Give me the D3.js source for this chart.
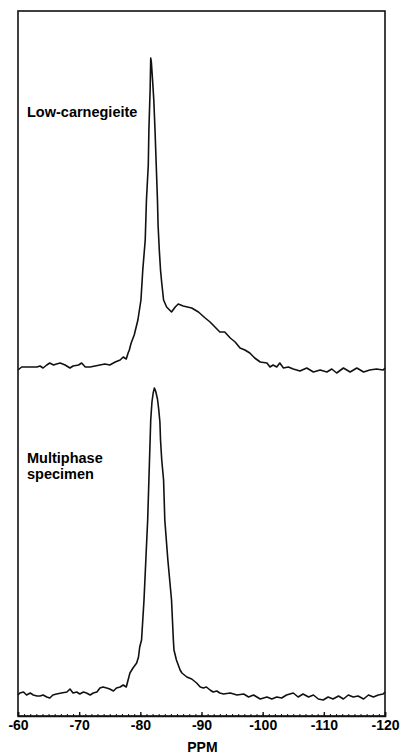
<!DOCTYPE html>
<html>
<head>
<meta charset="utf-8">
<script src="https://cdn.jsdelivr.net/npm/d3@7"></script>
<style>
  body { margin: 0; background: #fff; }
  svg { display: block; }
  text { font-family: "Liberation Sans", Arial, sans-serif; font-weight: bold; fill: #000; }
</style>
</head>
<body>
<svg id="chart" width="400" height="754"></svg>
<script>
// chemical shift (ppm) and intensity (arbitrary units)
const topPpm = [-60.0, -60.6, -61.4, -62.5, -63.1, -63.6, -64.1, -64.7, -65.2, -65.8, -66.3, -66.9, -67.7, -68.5, -69.0, -69.9, -70.4, -71.0, -71.8, -72.6, -73.4, -74.2, -75.0, -75.9, -76.7, -77.2, -77.7, -78.0, -78.2, -78.5, -79.0, -79.6, -80.1, -80.4, -80.8, -81.0, -81.3, -81.4, -81.6, -81.7, -81.8, -82.0, -82.2, -82.4, -82.6, -82.8, -82.9, -83.1, -83.3, -83.5, -83.8, -84.3, -85.1, -85.7, -86.2, -87.0, -88.4, -89.5, -90.6, -91.4, -92.2, -93.0, -93.8, -94.7, -95.5, -96.3, -97.1, -97.9, -98.7, -99.6, -100.7, -101.2, -101.7, -102.3, -102.8, -103.4, -104.2, -105.0, -106.1, -107.2, -108.3, -109.4, -110.5, -111.3, -112.1, -113.2, -114.3, -115.4, -116.5, -117.5, -118.6, -119.7, -120.0];
const topInt = [-2, 1, 1, 1, 1, 2, 0, 3, 5, 3, 4, 5, 3, 0, 2, 3, 5, 1, 1, 2, 3, 4, 3, 6, 8, 11, 9, 15, 18, 25, 33, 48, 68, 98, 128, 168, 203, 238, 278, 310, 306, 288, 268, 238, 203, 168, 143, 118, 98, 85, 68, 61, 56, 61, 64, 62, 60, 56, 50, 46, 41, 36, 36, 30, 26, 20, 18, 15, 10, 6, 5, 1, 3, 1, 5, 0, 1, -1, -3, 0, -4, -2, -4, -1, -5, 0, -4, 0, -4, -2, -1, -2, 0];

const bottomPpm = [-60.0, -60.3, -60.9, -61.4, -62.0, -62.5, -63.1, -63.6, -64.1, -64.7, -65.2, -65.7, -66.3, -67.1, -68.0, -68.5, -69.0, -69.6, -70.1, -70.7, -71.2, -71.8, -72.3, -72.9, -73.4, -73.9, -74.5, -75.0, -75.6, -76.1, -76.7, -77.2, -77.7, -78.0, -78.3, -78.8, -79.4, -79.7, -79.9, -80.2, -80.6, -80.9, -81.2, -81.4, -81.5, -81.6, -81.7, -81.9, -82.1, -82.3, -82.5, -82.8, -83.0, -83.2, -83.3, -83.5, -83.8, -84.0, -84.5, -85.1, -85.4, -85.5, -85.9, -86.5, -86.8, -87.6, -88.4, -89.2, -89.8, -90.3, -90.8, -91.4, -91.9, -92.5, -93.0, -93.6, -94.7, -95.8, -96.9, -97.7, -98.5, -99.6, -100.7, -101.5, -102.3, -103.1, -103.9, -105.0, -105.8, -106.6, -107.5, -108.3, -109.1, -109.9, -110.7, -111.5, -112.4, -113.2, -114.0, -114.8, -115.6, -116.5, -117.3, -118.1, -118.9, -119.7, -120.0];
const bottomInt = [1, 3, 4, 1, 3, 1, 0, 0, 1, -1, -2, 1, 2, 3, 4, 7, 3, 4, 2, 4, 3, 1, 3, 4, 8, 9, 8, 7, 5, 8, 9, 11, 9, 16, 23, 28, 33, 39, 49, 56, 96, 136, 176, 216, 236, 256, 276, 294, 303, 308, 305, 297, 287, 274, 256, 236, 216, 176, 136, 96, 56, 46, 36, 26, 23, 19, 17, 13, 9, 8, 9, 6, 4, 5, 3, 2, 3, 1, 2, -1, 1, -3, -1, -3, -1, -2, 1, 3, -1, 2, -1, 1, -3, -4, -1, -3, 0, -3, 1, -1, 0, -3, 1, -1, 1, 2, 4];

const majorTicks = [-60, -70, -80, -90, -100, -110, -120];
const topLabel = ["Low-carnegieite"];
const bottomLabel = ["Multiphase", "specimen"];
const xTitle = "PPM";

const svg = d3.select("#chart");
const frame = { left: 18, right: 385, top: 11, bottom: 716 };

const x = d3.scaleLinear().domain([-60, -120]).range([frame.left, frame.right]);
const yTop = d3.scaleLinear().domain([0, 310]).range([368, 58]);
const yBottom = d3.scaleLinear().domain([0, 308]).range([696, 388]);

// frame
svg.append("rect")
    .attr("x", frame.left).attr("y", frame.top)
    .attr("width", frame.right - frame.left).attr("height", frame.bottom - frame.top)
    .attr("fill", "none")
    .attr("stroke", "#111")
    .attr("stroke-width", 1.6);

const drawSpectrum = (ppm, vals, y) => {
    const pts = ppm.map((p, i) => [p, vals[i]]);
    svg.append("path")
        .datum(pts)
        .attr("fill", "none")
        .attr("stroke", "#111")
        .attr("stroke-width", 1.6)
        .attr("stroke-linejoin", "round")
        .attr("d", d3.line().x(d => x(d[0])).y(d => y(d[1])));
};

drawSpectrum(topPpm, topInt, yTop);
drawSpectrum(bottomPpm, bottomInt, yBottom);

// minor ticks, pointing up into the plot
const minor = svg.append("g")
    .attr("transform", `translate(0,${frame.bottom})`)
    .call(d3.axisBottom(x).ticks(60).tickSize(-2).tickFormat(""));
minor.select(".domain").remove();
minor.selectAll("line").attr("stroke", "#111").attr("stroke-width", 1);

// major ticks with labels
const major = svg.append("g")
    .attr("transform", `translate(0,${frame.bottom})`)
    .call(d3.axisBottom(x).tickValues(majorTicks).tickSize(-4).tickPadding(4)
        .tickFormat(d => String(d)));
major.select(".domain").attr("stroke", "#111").attr("stroke-width", 1.6);
major.selectAll("line").attr("stroke", "#111").attr("stroke-width", 1.4);
major.selectAll("text")
    .style("font-family", '"Liberation Sans", Arial, sans-serif')
    .style("font-weight", "bold")
    .style("font-size", "14px")
    .attr("fill", "#000");

svg.append("text")
    .attr("x", (x(-89) + x(-90)) / 2 + 4)
    .attr("y", 752)
    .attr("text-anchor", "middle")
    .style("font-size", "14px")
    .text(xTitle);

svg.append("text")
    .attr("x", 27).attr("y", 117)
    .style("font-size", "14.5px")
    .text(topLabel[0]);

svg.append("text")
    .attr("x", 27).attr("y", 463)
    .style("font-size", "14.5px")
    .selectAll("tspan")
    .data(bottomLabel)
    .join("tspan")
    .attr("x", 27)
    .attr("dy", (d, i) => i ? 16 : 0)
    .text(d => d);
</script>
</body>
</html>
